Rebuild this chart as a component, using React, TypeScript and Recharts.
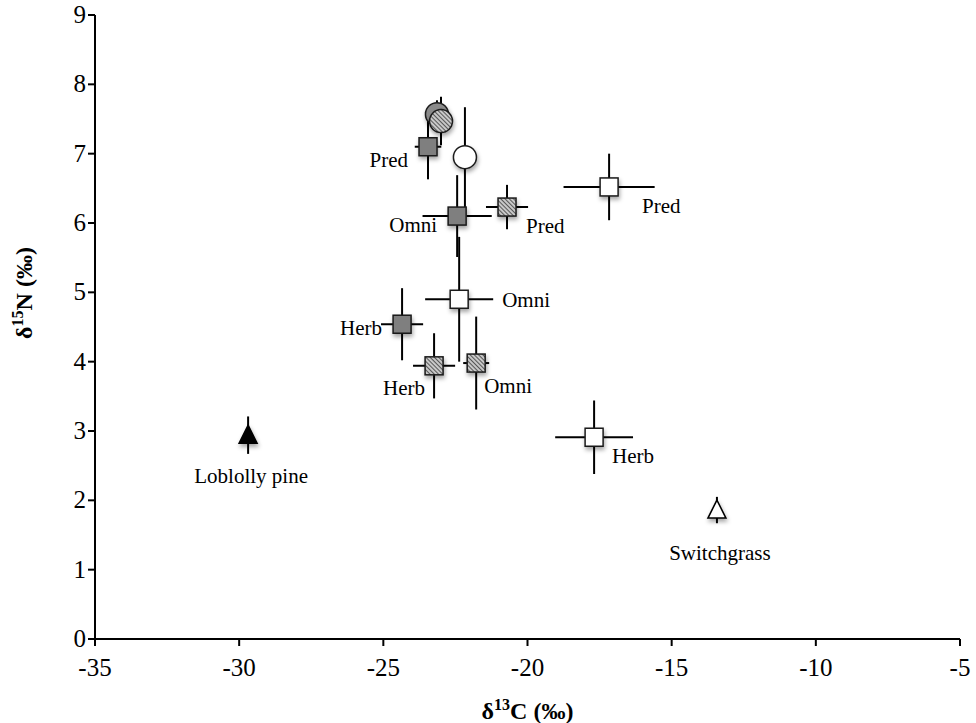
import { ScatterChart, Scatter, XAxis, YAxis, ErrorBar } from "recharts";

// feeding-guild means (x = d13C, y = d15N) with SE bars
const graySquares = [
  { label: "Pred", x: -23.45, y: 7.1, ex: 0.46, ey: 0.47 },
  { label: "Omni", x: -22.44, y: 6.1, ex: 1.2, ey: 0.59 },
  { label: "Herb", x: -24.35, y: 4.54, ex: 0.73, ey: 0.52 },
];
const hatchedSquares = [
  { label: "Pred", x: -20.71, y: 6.23, ex: 0.73, ey: 0.32 },
  { label: "Herb", x: -23.24, y: 3.94, ex: 0.73, ey: 0.47 },
  { label: "Omni", x: -21.78, y: 3.98, ex: 0.45, ey: 0.67 },
];
const openSquares = [
  { label: "Pred", x: -17.17, y: 6.52, ex: 1.58, ey: 0.48 },
  { label: "Omni", x: -22.37, y: 4.9, ex: 1.18, ey: 0.9 },
  { label: "Herb", x: -17.69, y: 2.91, ex: 1.35, ey: 0.53 },
];
const grayCircle = [{ label: "", x: -23.14, y: 7.57, ex: 0.2, ey: 0.2 }];
const hatchedCircle = [{ label: "", x: -23.0, y: 7.47, ex: 0.3, ey: 0.35 }];
const openCircle = [{ label: "", x: -22.17, y: 6.95, ex: 0.2, ey: 0.72 }];
const pine = [{ label: "Loblolly pine", x: -29.69, y: 2.94, ex: 0.1, ey: 0.27 }];
const switchgrass = [{ label: "Switchgrass", x: -13.43, y: 1.86, ex: 0.1, ey: 0.19 }];

const xTicks = [-35, -30, -25, -20, -15, -10, -5];
const yTicks = [0, 1, 2, 3, 4, 5, 6, 7, 8, 9];

// label placement relative to marker centre (px)
const LABEL_POS: Record<string, { dx: number; dy: number; anchor: string }> = {
  "gray:Pred": { dx: -20, dy: 20, anchor: "end" },
  "gray:Omni": { dx: -20, dy: 16, anchor: "end" },
  "gray:Herb": { dx: -20, dy: 11, anchor: "end" },
  "hatch:Pred": { dx: 19, dy: 26, anchor: "start" },
  "hatch:Herb": { dx: -9, dy: 29, anchor: "end" },
  "hatch:Omni": { dx: 8, dy: 30, anchor: "start" },
  "open:Pred": { dx: 33, dy: 26, anchor: "start" },
  "open:Omni": { dx: 43, dy: 8, anchor: "start" },
  "open:Herb": { dx: 18, dy: 26, anchor: "start" },
  "tri:Loblolly pine": { dx: 3, dy: 48, anchor: "middle" },
  "tri:Switchgrass": { dx: 3, dy: 50, anchor: "middle" },
};

const FONT = "'Liberation Serif', 'Times New Roman', serif";
const SHADOW = "url(#dropShadow)";

function Label({ group, cx, cy, text }: any) {
  const pos = LABEL_POS[`${group}:${text}`];
  if (!pos) return null;
  return (
    <text
      x={cx + pos.dx}
      y={cy + pos.dy}
      textAnchor={pos.anchor as any}
      fontFamily={FONT}
      fontSize={21}
      fill="#000"
    >
      {text}
    </text>
  );
}

const squareShape = (group: string, fill: string) => (props: any) => {
  const { cx, cy, payload } = props;
  const s = 18;
  return (
    <g>
      <rect
        x={cx - s / 2}
        y={cy - s / 2}
        width={s}
        height={s}
        fill={fill}
        stroke="#1a1a1a"
        strokeWidth={1.5}
        filter={SHADOW}
      />
      <Label group={group} cx={cx} cy={cy} text={payload.label} />
    </g>
  );
};

const circleShape = (fill: string) => (props: any) => {
  const { cx, cy } = props;
  return <circle cx={cx} cy={cy} r={11.5} fill={fill} stroke="#1a1a1a" strokeWidth={1.5} filter={SHADOW} />;
};

const triangleShape = (fill: string) => (props: any) => {
  const { cx, cy, payload } = props;
  return (
    <g>
      <path
        d={`M${cx},${cy - 10} L${cx + 9},${cy + 8} L${cx - 9},${cy + 8} Z`}
        fill={fill}
        stroke="#000"
        strokeWidth={1.5}
        filter={SHADOW}
      />
      <Label group="tri" cx={cx} cy={cy} text={payload.label} />
    </g>
  );
};

const XTick = ({ x, y, payload }: any) => (
  <text x={x} y={y + 28} textAnchor="middle" fontFamily={FONT} fontSize={25} fill="#000">
    {payload.value}
  </text>
);

const YTick = ({ x, y, payload }: any) => (
  <text x={x} y={y + 8} textAnchor="end" fontFamily={FONT} fontSize={25} fill="#000">
    {payload.value}
  </text>
);

const bars = () => [
  <ErrorBar key="ex" dataKey="ex" direction="x" width={0} stroke="#000" strokeWidth={2} isAnimationActive={false} />,
  <ErrorBar key="ey" dataKey="ey" direction="y" width={0} stroke="#000" strokeWidth={2} isAnimationActive={false} />,
];

export default function App() {
  return (
    <div style={{ position: "absolute", left: 0, top: 0, width: 976, height: 723, background: "#fff" }}>
      <svg width={0} height={0} style={{ position: "absolute" }}>
        <defs>
          <pattern id="hatch" width={3} height={3} patternUnits="userSpaceOnUse" patternTransform="rotate(-45)">
            <rect width={3} height={3} fill="#c8c8c8" />
            <line x1={0} y1={0} x2={0} y2={3} stroke="#262626" strokeWidth={1.4} />
          </pattern>
          <filter id="dropShadow" x="-50%" y="-50%" width="200%" height="200%">
            <feDropShadow dx={1} dy={3} stdDeviation={2} floodColor="#000" floodOpacity={0.35} />
          </filter>
        </defs>
      </svg>
      <ScatterChart width={976} height={723} margin={{ top: 15, right: 16, left: 35, bottom: 34 }}>
        <XAxis
          type="number"
          dataKey="x"
          domain={[-35, -5]}
          ticks={xTicks}
          interval={0}
          allowDataOverflow
          height={50}
          axisLine={{ stroke: "#000", strokeWidth: 2 }}
          tickSize={7}
          tickLine={{ stroke: "#000", strokeWidth: 2 }}
          tick={<XTick />}
          label={{
            content: (p: any) => {
              const vb = p.viewBox;
              return (
                <text
                  x={vb.x + vb.width / 2}
                  y={vb.y + 80}
                  textAnchor="middle"
                  fontFamily={FONT}
                  fontWeight="bold"
                  fontSize={24}
                >
                  δ<tspan dy={-9} fontSize={16}>13</tspan>
                  <tspan dy={9}>C (‰)</tspan>
                </text>
              );
            },
          }}
        />
        <YAxis
          type="number"
          dataKey="y"
          domain={[0, 9]}
          ticks={yTicks}
          interval={0}
          allowDataOverflow
          width={60}
          axisLine={{ stroke: "#000", strokeWidth: 2 }}
          tickSize={7}
          tickLine={{ stroke: "#000", strokeWidth: 2 }}
          tick={<YTick />}
          label={{
            content: () => (
              <text
                x={0}
                y={0}
                transform="translate(32, 293) rotate(-90)"
                textAnchor="middle"
                fontFamily={FONT}
                fontWeight="bold"
                fontSize={24}
              >
                δ<tspan dy={-9} fontSize={16}>15</tspan>
                <tspan dy={9}>N (‰)</tspan>
              </text>
            ),
          }}
        />
        <Scatter data={graySquares} shape={squareShape("gray", "#7f7f7f")} isAnimationActive={false}>
          {bars()}
        </Scatter>
        <Scatter data={hatchedSquares} shape={squareShape("hatch", "url(#hatch)")} isAnimationActive={false}>
          {bars()}
        </Scatter>
        <Scatter data={openSquares} shape={squareShape("open", "#fff")} isAnimationActive={false}>
          {bars()}
        </Scatter>
        <Scatter data={grayCircle} shape={circleShape("#8a8a8a")} isAnimationActive={false}>
          {bars()}
        </Scatter>
        <Scatter data={hatchedCircle} shape={circleShape("url(#hatch)")} isAnimationActive={false}>
          {bars()}
        </Scatter>
        <Scatter data={openCircle} shape={circleShape("#fff")} isAnimationActive={false}>
          {bars()}
        </Scatter>
        <Scatter data={pine} shape={triangleShape("#000")} isAnimationActive={false}>
          {bars()}
        </Scatter>
        <Scatter data={switchgrass} shape={triangleShape("#fff")} isAnimationActive={false}>
          {bars()}
        </Scatter>
      </ScatterChart>
    </div>
  );
}
